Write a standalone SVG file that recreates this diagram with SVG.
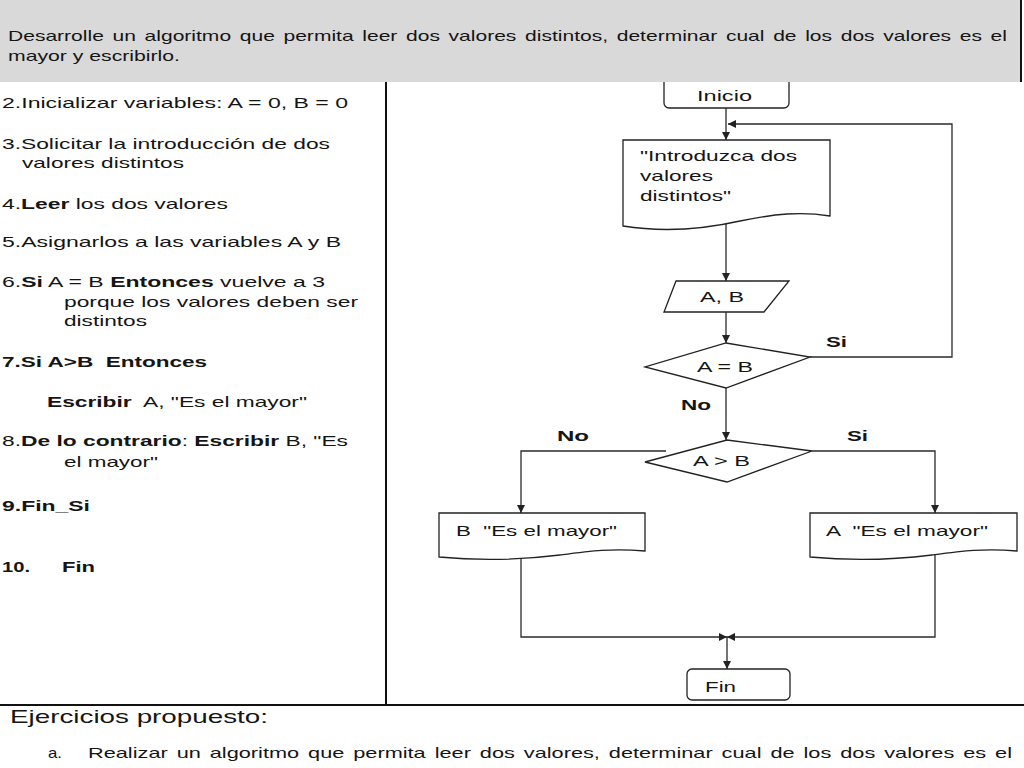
<svg xmlns="http://www.w3.org/2000/svg" width="1024" height="768" viewBox="0 0 1024 768">
<defs>
<style>
.t{font-family:"Liberation Sans",Arial,sans-serif;font-size:15px;fill:#151515;white-space:pre}
.b{font-weight:bold}
.shape{fill:#fff;stroke:#222;stroke-width:1.3}
.conn{fill:none;stroke:#2a2a2a;stroke-width:1.3}
.rule{stroke:#111;stroke-width:2}
</style>
<marker id="ah" viewBox="0 0 8 8" refX="8" refY="4" markerWidth="8" markerHeight="8" markerUnits="userSpaceOnUse" orient="auto">
<path d="M0,0 L8,4 L0,8 Z" fill="#222"/>
</marker>
</defs>
<rect width="1024" height="768" fill="#fff"/>

<!-- left column text -->
<g id="steps">
<text class="t" x="2" y="108" textLength="346" lengthAdjust="spacingAndGlyphs">2.Inicializar variables: A = 0, B = 0</text>
<text class="t" x="2" y="149" textLength="328" lengthAdjust="spacingAndGlyphs">3.Solicitar la introducción de dos</text>
<text class="t" x="22" y="168" textLength="162" lengthAdjust="spacingAndGlyphs">valores distintos</text>
<text class="t" x="2" y="209" textLength="226" lengthAdjust="spacingAndGlyphs">4.<tspan class="b">Leer</tspan> los dos valores</text>
<text class="t" x="2" y="247" textLength="339" lengthAdjust="spacingAndGlyphs">5.Asignarlos a las variables A y B</text>
<text class="t" x="2" y="287" textLength="323" lengthAdjust="spacingAndGlyphs">6.<tspan class="b">Si</tspan> A = B <tspan class="b">Entonces</tspan> vuelve a 3</text>
<text class="t" x="64" y="307" textLength="294" lengthAdjust="spacingAndGlyphs">porque los valores deben ser</text>
<text class="t" x="64" y="326" textLength="83" lengthAdjust="spacingAndGlyphs">distintos</text>
<text class="t b" x="2" y="367" textLength="205" lengthAdjust="spacingAndGlyphs">7.Si A&gt;B  Entonces</text>
<text class="t" x="47" y="407" textLength="260" lengthAdjust="spacingAndGlyphs"><tspan class="b">Escribir</tspan>  A, "Es el mayor"</text>
<text class="t" x="2" y="446" textLength="346" lengthAdjust="spacingAndGlyphs">8.<tspan class="b">De lo contrario</tspan>: <tspan class="b">Escribir</tspan> B, "Es</text>
<text class="t" x="64" y="467" textLength="94" lengthAdjust="spacingAndGlyphs">el mayor"</text>
<text class="t b" x="2" y="511" textLength="88" lengthAdjust="spacingAndGlyphs">9.Fin_Si</text>
<text class="t b" x="2" y="572" textLength="28" lengthAdjust="spacingAndGlyphs">10.</text>
<text class="t b" x="62" y="572" textLength="33" lengthAdjust="spacingAndGlyphs">Fin</text>
</g>

<!-- frame lines -->
<line class="rule" x1="386" y1="80" x2="386" y2="705"/>
<line class="rule" x1="0" y1="705" x2="1024" y2="705"/>

<!-- connectors -->
<g id="connectors">
<path class="conn" d="M726,108 V140" marker-end="url(#ah)"/>
<path class="conn" d="M810,357 H952 V124 H728" marker-end="url(#ah)"/>
<path class="conn" d="M726,224 V281" marker-end="url(#ah)"/>
<path class="conn" d="M726,312 V343" marker-end="url(#ah)"/>
<path class="conn" d="M726,388 V440" marker-end="url(#ah)"/>
<path class="conn" d="M666,451 H521 V513" marker-end="url(#ah)"/>
<path class="conn" d="M812,451 H935 V513" marker-end="url(#ah)"/>
<path class="conn" d="M521,557 V637 H727" marker-end="url(#ah)"/>
<path class="conn" d="M935,554 V637 H727" marker-end="url(#ah)"/>
<path class="conn" d="M727,637 V669" marker-end="url(#ah)"/>
<text class="t b" x="826" y="347" textLength="21" lengthAdjust="spacingAndGlyphs">Si</text>
<text class="t b" x="681" y="410" textLength="30" lengthAdjust="spacingAndGlyphs">No</text>
<text class="t b" x="557" y="441" textLength="32" lengthAdjust="spacingAndGlyphs">No</text>
<text class="t b" x="847" y="441" textLength="21" lengthAdjust="spacingAndGlyphs">Si</text>
</g>

<!-- nodes -->
<g id="inicio">
<rect class="shape" x="664" y="60" width="125" height="48" rx="5"/>
<text class="t" x="697" y="101" textLength="55" lengthAdjust="spacingAndGlyphs">Inicio</text>
</g>
<g id="introduzca">
<path class="shape" d="M623,140 H830 V216 C800,211 775,214 740,221 C700,230 660,232 623,226 Z"/>
<text class="t" x="640" y="161" textLength="157" lengthAdjust="spacingAndGlyphs">"Introduzca dos</text>
<text class="t" x="640" y="181" textLength="73" lengthAdjust="spacingAndGlyphs">valores</text>
<text class="t" x="640" y="201" textLength="91" lengthAdjust="spacingAndGlyphs">distintos"</text>
</g>
<g id="leer">
<polygon class="shape" points="676,281 789,281 764,312 664,312"/>
<text class="t" x="700" y="302" textLength="44" lengthAdjust="spacingAndGlyphs">A, B</text>
</g>
<g id="igual">
<polygon class="shape" points="726,343 810,357 726,388 645,367"/>
<text class="t" x="697" y="372" textLength="56" lengthAdjust="spacingAndGlyphs">A = B</text>
</g>
<g id="mayor">
<polygon class="shape" points="727,440 812,451 727,482 645,462"/>
<text class="t" x="693" y="466" textLength="57" lengthAdjust="spacingAndGlyphs">A &gt; B</text>
</g>
<g id="salidaB">
<path class="shape" d="M439,513 H645 V551 C612,548 590,551 560,555 C520,560 480,561 439,557 Z"/>
<text class="t" x="456" y="536" textLength="161" lengthAdjust="spacingAndGlyphs">B  "Es el mayor"</text>
</g>
<g id="salidaA">
<path class="shape" d="M810,513 H1017 V551 C984,548 962,551 932,555 C892,560 852,561 810,557 Z"/>
<text class="t" x="826" y="536" textLength="162" lengthAdjust="spacingAndGlyphs">A  "Es el mayor"</text>
</g>
<g id="fin">
<rect class="shape" x="687" y="669" width="103" height="31" rx="5"/>
<text class="t" x="705" y="692" textLength="31" lengthAdjust="spacingAndGlyphs">Fin</text>
</g>

<!-- header band -->
<g id="header">
<rect x="0" y="0" width="1021" height="82" fill="#d9d9d9"/>
<line x1="1021" y1="0" x2="1021" y2="82" stroke="#111" stroke-width="2"/>
<text class="t" x="8" y="41" style="word-spacing:2px" textLength="999" lengthAdjust="spacingAndGlyphs">Desarrolle un algoritmo que permita leer dos valores distintos, determinar cual de los dos valores es el</text>
<text class="t" x="8" y="61" textLength="172" lengthAdjust="spacingAndGlyphs">mayor y escribirlo.</text>
</g>

<!-- bottom text -->
<g id="ejercicios">
<text class="t" x="10" y="723" style="font-size:19px" textLength="258" lengthAdjust="spacingAndGlyphs">Ejercicios propuesto:</text>
<text class="t" x="48" y="758" textLength="14" lengthAdjust="spacingAndGlyphs">a.</text>
<text class="t" x="88" y="758" style="word-spacing:2px" textLength="924" lengthAdjust="spacingAndGlyphs">Realizar un algoritmo que permita leer dos valores, determinar cual de los dos valores es el</text>
</g>
</svg>
